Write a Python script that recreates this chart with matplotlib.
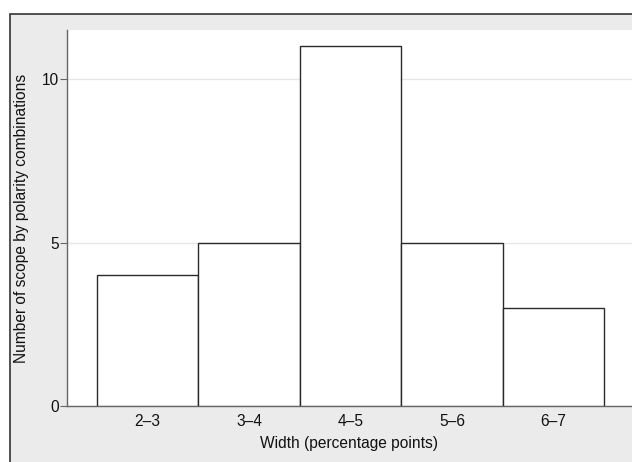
import matplotlib.pyplot as plt
from matplotlib.patches import Rectangle

plt.rcParams['font.family'] = ['Liberation Sans', 'DejaVu Sans']

categories = ['2–3', '3–4', '4–5', '5–6', '6–7']
counts = [4, 5, 11, 5, 3]
yticks = [0, 5, 10]

W, H = 632, 462
fs = 11.2
fig = plt.figure(figsize=(W / 100, H / 100), dpi=100)
fig.patch.set_facecolor('white')

# Stata-like outer panel: grey fill with dark border, cropped at right/bottom
fig.patches.append(Rectangle((10 / W, -0.05), 1.1, (H - 14) / H + 0.05,
                             transform=fig.transFigure, facecolor='#ebebeb',
                             edgecolor='#333333', linewidth=1.2, zorder=-5))

ax = fig.add_axes([67 / W, (H - 406) / H, (W - 67) / W, (406 - 30) / H])
ax.set_zorder(2)
ax.set_facecolor('white')

x = range(len(categories))
ax.bar(x, counts, width=1.0, color='white', edgecolor='#2a2a2a',
       linewidth=1.0, zorder=3)

ax.set_xlim(-0.796, 4.776)
ax.set_ylim(0, 11.5)
ax.set_yticks(yticks)
ax.set_xticks(list(x))
ax.set_xticklabels(categories)
ax.yaxis.grid(True, color='#e6e6e6', linewidth=1.0, zorder=0)
ax.set_axisbelow(True)

for s in ['top', 'right']:
    ax.spines[s].set_visible(False)
for s in ['left', 'bottom']:
    ax.spines[s].set_color('#666666')
    ax.spines[s].set_linewidth(1.0)

ax.tick_params(axis='y', length=5, color='#666666', labelsize=fs,
               labelcolor='#111111', pad=1)
ax.tick_params(axis='x', length=0, labelsize=fs, labelcolor='#111111', pad=6)

ax.set_xlabel('Width (percentage points)', fontsize=fs, color='#111111',
              labelpad=5)
ax.set_ylabel('Number of scope by polarity combinations', fontsize=fs,
              color='#111111', labelpad=9)

fig.savefig('out.png', dpi=100, facecolor=fig.get_facecolor())
